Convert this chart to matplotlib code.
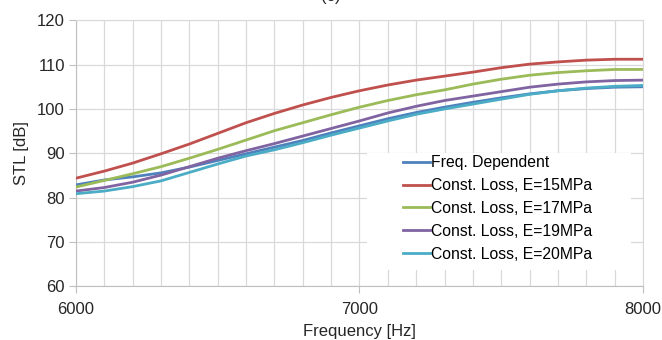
import numpy as np
import matplotlib.pyplot as plt
from matplotlib.patches import Rectangle

plt.rcParams['font.family'] = ['Liberation Sans', 'DejaVu Sans']

freq = np.arange(6000, 8001, 100)

freq_dep = [82.9, 84.0, 84.7, 85.6, 86.9, 88.4, 89.9, 91.4, 92.9, 94.6, 96.2,
            97.8, 99.2, 100.4, 101.5, 102.5, 103.4, 104.1, 104.6, 104.9, 105.0]
e15 = [84.4, 86.0, 87.8, 89.9, 92.1, 94.5, 96.9, 99.0, 100.9, 102.6, 104.1,
       105.4, 106.5, 107.4, 108.3, 109.3, 110.1, 110.6, 111.0, 111.2, 111.2]
e17 = [82.4, 83.9, 85.4, 87.0, 88.9, 90.9, 93.0, 95.1, 96.9, 98.7, 100.4,
       101.9, 103.2, 104.3, 105.6, 106.7, 107.6, 108.2, 108.6, 108.9, 108.9]
e19 = [81.5, 82.3, 83.5, 85.1, 87.0, 88.9, 90.6, 92.2, 93.9, 95.6, 97.3,
       99.1, 100.6, 101.9, 102.9, 103.9, 104.9, 105.6, 106.1, 106.4, 106.5]
e20 = [80.9, 81.5, 82.5, 83.8, 85.7, 87.6, 89.4, 90.8, 92.4, 94.1, 95.7,
       97.3, 98.8, 100.0, 101.1, 102.2, 103.3, 104.1, 104.7, 105.1, 105.3]

series = [
    ("Freq. Dependent", freq_dep, "#4F81BD"),
    ("Const. Loss, E=15MPa", e15, "#C0504D"),
    ("Const. Loss, E=17MPa", e17, "#9BBB59"),
    ("Const. Loss, E=19MPa", e19, "#8064A2"),
    ("Const. Loss, E=20MPa", e20, "#4BACC6"),
]

fig = plt.figure(figsize=(6.62, 3.40), dpi=100)
ax = fig.add_axes([0.1148, 0.1574, 0.8565, 0.7832])

for label, vals, col in series:
    ax.plot(freq, vals, color=col, lw=2.0, label=label, zorder=3,
            solid_joinstyle='round')

ax.set_xlim(6000, 8000)
ax.set_ylim(60, 120)
ax.set_xticks([6000, 7000, 8000])
ax.set_xticks(np.arange(6000, 8001, 100), minor=True)
ax.set_yticks(np.arange(60, 121, 10))
ax.set_axisbelow(True)
ax.grid(True, which='both', color='#d9d9d9', lw=0.9)
for s in ax.spines.values():
    s.set_color('#d9d9d9')
ax.spines['left'].set_color('#bfbfbf')
ax.spines['bottom'].set_color('#bfbfbf')
ax.tick_params(which='major', length=5, color='#bfbfbf', labelsize=12,
               labelcolor='#262626', pad=3)
ax.tick_params(which='minor', length=0)
ax.tick_params(axis='x', pad=6)

ax.set_xlabel('Frequency [Hz]', fontsize=12, color='#262626', labelpad=5)
ax.set_ylabel('STL [dB]', fontsize=12, color='#262626', labelpad=6)

# white box behind the legend, hiding the grid
ax.add_patch(Rectangle((0.513, 0.062), 0.466, 0.439, transform=ax.transAxes,
                       facecolor='white', edgecolor='none', zorder=1))
ax.legend(loc='upper left', bbox_to_anchor=(0.572, 0.505), frameon=False,
          fontsize=11.3, handlelength=1.7, handletextpad=0.05,
          labelspacing=0.5, borderaxespad=0, borderpad=0.2)

fig.text(0.5, 0.997, '(c)', ha='center', va='baseline', fontsize=12,
         color='#262626')

fig.savefig('out.png', dpi=100)
